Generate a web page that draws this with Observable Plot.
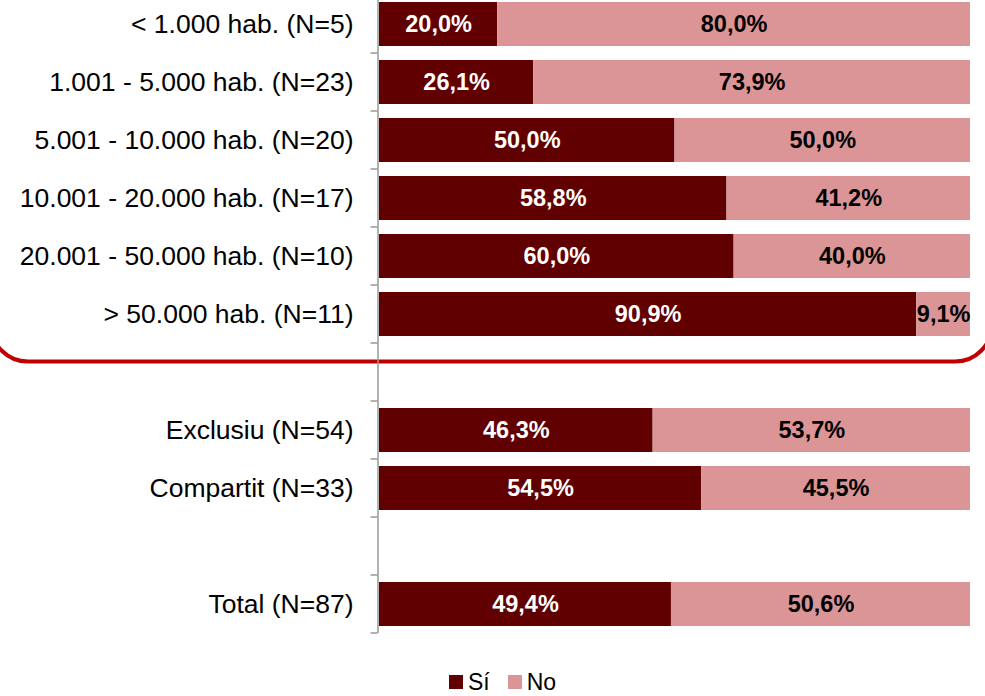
<!DOCTYPE html>
<html>
<head>
<meta charset="utf-8">
<script src="https://cdn.jsdelivr.net/npm/d3@7"></script>
<script src="https://cdn.jsdelivr.net/npm/@observablehq/plot@0.6"></script>
<style>
  html, body { margin: 0; padding: 0; background: #fff; width: 985px; height: 696px; overflow: hidden; position: relative; }
  #chart svg { display: block; margin-top: -5px; overflow: visible; }
  #legend { position: absolute; left: 449px; top: 672px; font-family: "Liberation Sans", Arial, sans-serif; font-size: 23px; line-height: 20px; color: #000; display: flex; align-items: center; white-space: nowrap; }
  #legend .sw { display: inline-block; width: 14px; height: 14px; margin-right: 5px; }
  #legend .item { display: inline-flex; align-items: center; margin-right: 18px; height: 20px; }
</style>
</head>
<body>
<div id="chart"></div>
<div id="legend"></div>
<script>
const categories = [
  "< 1.000 hab. (N=5)",
  "1.001 - 5.000 hab. (N=23)",
  "5.001 - 10.000 hab. (N=20)",
  "10.001 - 20.000 hab. (N=17)",
  "20.001 - 50.000 hab. (N=10)",
  "> 50.000 hab. (N=11)",
  " ",
  "Exclusiu (N=54)",
  "Compartit (N=33)",
  "  ",
  "Total (N=87)"
];
const siValues = [20.0, 26.1, 50.0, 58.8, 60.0, 90.9, null, 46.3, 54.5, null, 49.4];
const noValues = [80.0, 73.9, 50.0, 41.2, 40.0, 9.1, null, 53.7, 45.5, null, 50.6];
const seriesNames = ["Sí", "No"];
const seriesColors = ["#600000", "#DC9597"];

const data = [];
categories.forEach((c, i) => {
  if (siValues[i] != null) data.push({cat: c, series: "Sí", value: siValues[i]});
  if (noValues[i] != null) data.push({cat: c, series: "No", value: noValues[i]});
});
const fmt = v => d3.format(".1f")(v).replace(".", ",") + "%";

const W = 985, H = 660;
const chart = Plot.plot({
  width: W,
  height: H,
  marginLeft: 379,
  marginRight: 15,
  marginTop: 0,
  marginBottom: 22,
  style: {fontFamily: "'Liberation Sans', Arial, sans-serif", background: "transparent"},
  x: {domain: [0, 100], axis: null},
  y: {domain: categories, paddingInner: 0.24, paddingOuter: 0.12, label: null},
  color: {domain: seriesNames, range: seriesColors},
  marks: [
    Plot.barX(data, Plot.stackX({x: "value", y: "cat", fill: "series", order: seriesNames})),
    Plot.text(data, Plot.stackX({
      x: "value", y: "cat", z: "series", order: seriesNames,
      text: d => d.series === "Sí" ? fmt(d.value) : "",
      fill: "white", fontWeight: "bold", fontSize: 23.5
    })),
    Plot.text(data, Plot.stackX({
      x: "value", y: "cat", z: "series", order: seriesNames,
      text: d => d.series === "No" ? fmt(d.value) : "",
      fill: "black", fontWeight: "bold", fontSize: 23.5
    })),
    Plot.axisY({tickSize: 0, tickPadding: 26, fontSize: 26.5, tickFormat: d => d.trim(), fill: "#000"}),
    Plot.ruleX([0], {dx: -1.5, stroke: "#999", strokeWidth: 1.5})
  ]
});
document.getElementById("chart").appendChild(chart);

// boundary ticks and decoration bracket, positioned from the scales
const y = chart.scale("y");
const x = chart.scale("x");
const svg = d3.select(chart);
const step = y.step, bw = y.bandwidth;
const x0 = x.apply(0) - 1.5;
const bounds = categories.map(c => y.apply(c) - (step - bw) / 2);
bounds.push(y.apply(categories[categories.length - 1]) + bw + (step - bw) / 2);
svg.append("g").selectAll("line").data(bounds).join("line")
  .attr("x1", x0 - 7).attr("x2", x0).attr("y1", d => d).attr("y2", d => d)
  .attr("stroke", "#999").attr("stroke-width", 1.5);

// rounded red bracket below the municipality group
const by = y.apply(categories[6]) + step * 0.2;
const r = 37, left = -9, right = W + 7;
const p = d3.path();
p.moveTo(left, by - 120);
p.lineTo(left, by - r);
p.arcTo(left, by, left + r, by, r);
p.lineTo(right - r, by);
p.arcTo(right, by, right, by - r, r);
p.lineTo(right, by - 120);
svg.insert("path", ":first-child").attr("d", p.toString())
  .attr("fill", "none").attr("stroke", "#C00000").attr("stroke-width", 4);

// legend
const lg = d3.select("#legend");
seriesNames.forEach((s, i) => {
  const it = lg.append("span").attr("class", "item");
  it.append("span").attr("class", "sw").style("background", seriesColors[i]);
  it.append("span").text(s);
});
</script>
</body>
</html>
